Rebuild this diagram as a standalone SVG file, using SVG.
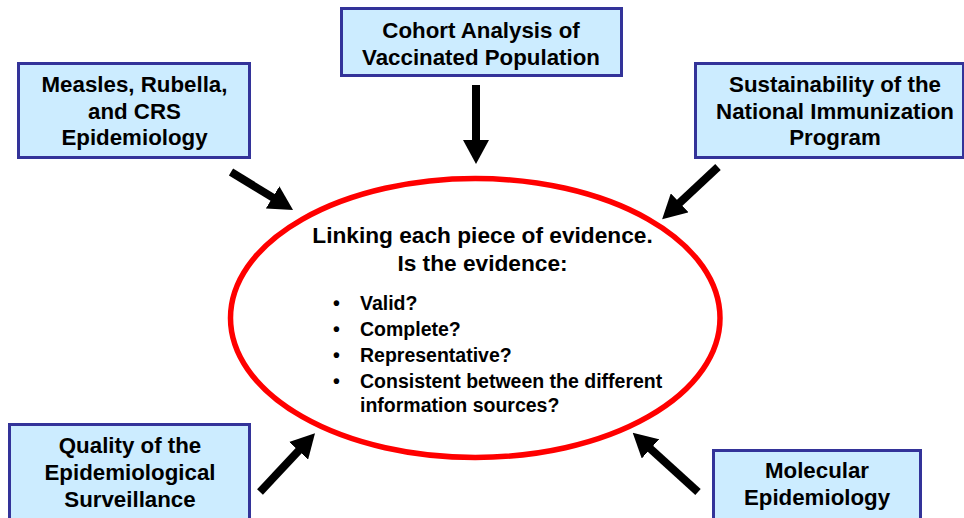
<svg xmlns="http://www.w3.org/2000/svg" width="964" height="518" viewBox="0 0 964 518">
<style>
.box{fill:#CCECFF;stroke:#333399;stroke-width:3}
.bt{font-family:"Liberation Sans",Arial,sans-serif;font-weight:bold;font-size:22.3px;fill:#000;text-anchor:middle}
.ct{font-family:"Liberation Sans",Arial,sans-serif;font-weight:bold;font-size:22.7px;fill:#000;text-anchor:middle}
.bl{font-family:"Liberation Sans",Arial,sans-serif;font-weight:bold;font-size:19.5px;fill:#000}
.arr{stroke:#000;stroke-width:8;fill:none;marker-end:url(#ah)}
</style>
<defs>
<marker id="ah" markerUnits="userSpaceOnUse" markerWidth="24" markerHeight="26" viewBox="0 0 24 26" refX="12" refY="13" orient="auto">
<path d="M0,0 L24,13 L0,26 z" fill="#000"/>
</marker>
</defs>
<rect width="964" height="518" fill="#fff"/>
<g id="center">
<ellipse cx="475.25" cy="318" rx="244.75" ry="139.5" fill="none" stroke="#FF0000" stroke-width="5.5"/>
<text class="ct" x="482.5" y="243">Linking each piece of evidence.</text>
<text class="ct" x="482.5" y="271">Is the evidence:</text>
<text class="bl"><tspan x="333" y="310">•</tspan><tspan x="360" y="310">Valid?</tspan></text>
<text class="bl"><tspan x="333" y="336">•</tspan><tspan x="360" y="336">Complete?</tspan></text>
<text class="bl"><tspan x="333" y="362">•</tspan><tspan x="360" y="362">Representative?</tspan></text>
<text class="bl"><tspan x="333" y="388">•</tspan><tspan x="360" y="388">Consistent between the different</tspan></text>
<text class="bl"><tspan x="360" y="412">information sources?</tspan></text>
</g>
<g id="measles">
<rect class="box" x="18.5" y="63.5" width="231" height="94"/>
<text class="bt" x="134.5" y="92">Measles, Rubella,</text>
<text class="bt" x="134.5" y="119">and CRS</text>
<text class="bt" x="134.5" y="145">Epidemiology</text>
</g>
<g id="cohort">
<rect class="box" x="341.5" y="8.5" width="280" height="67"/>
<text class="bt" x="481" y="38">Cohort Analysis of</text>
<text class="bt" x="481" y="65">Vaccinated Population</text>
</g>
<g id="sustainability">
<rect class="box" x="695.5" y="63.5" width="268" height="94"/>
<text class="bt" x="835" y="92">Sustainability of the</text>
<text class="bt" x="835" y="119">National Immunization</text>
<text class="bt" x="835" y="145">Program</text>
</g>
<g id="quality">
<rect class="box" x="9.5" y="424.5" width="240" height="100"/>
<text class="bt" x="130" y="453">Quality of the</text>
<text class="bt" x="130" y="480">Epidemiological</text>
<text class="bt" x="130" y="507">Surveillance</text>
</g>
<g id="molecular">
<rect class="box" x="713.5" y="450.5" width="207" height="80"/>
<text class="bt" x="817" y="478">Molecular</text>
<text class="bt" x="817" y="505">Epidemiology</text>
</g>
<g id="connectors">
<line class="arr" x1="231" y1="172" x2="282.8" y2="203.7"/>
<line class="arr" x1="476" y1="85" x2="476" y2="152"/>
<line class="arr" x1="718" y1="167" x2="670.9" y2="211"/>
<line class="arr" x1="260" y1="492" x2="306.8" y2="442"/>
<line class="arr" x1="698" y1="492" x2="641.6" y2="440.8"/>
</g>
</svg>
